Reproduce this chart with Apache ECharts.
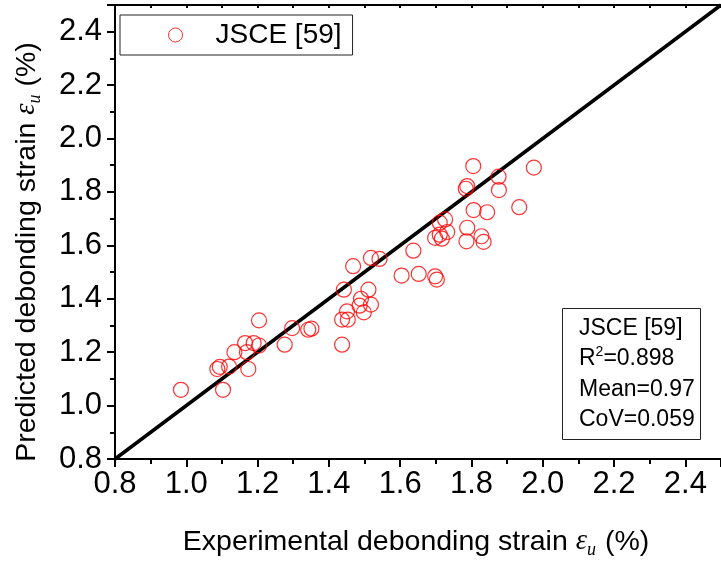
<!DOCTYPE html>
<html><head><meta charset="utf-8">
<script src="https://cdn.jsdelivr.net/npm/echarts@6/dist/echarts.min.js"></script>
<style>html,body{margin:0;padding:0;background:#fff}#c{width:721px;height:565px}</style>
</head><body><div id="c"></div>
<script>
// ---- data ----
const seriesName = 'JSCE [59]';
const experimental = [0.985, 1.103, 1.087, 1.094, 1.120, 1.174, 1.135, 1.170, 1.165, 1.189,
  1.204, 1.204, 1.276, 1.297, 1.342, 1.351, 1.437, 1.437, 1.453, 1.451,
  1.498, 1.486, 1.518, 1.490, 1.511, 1.442, 1.468, 1.518, 1.542, 1.604,
  1.637, 1.652, 1.698, 1.703, 1.698, 1.711, 1.717, 1.732, 1.726, 1.711,
  1.788, 1.786, 1.828, 1.834, 1.806, 1.844, 1.934, 1.788, 1.784, 1.805,
  1.876, 1.877, 1.975];
const predicted = [1.059, 1.059, 1.137, 1.145, 1.146, 1.137, 1.200, 1.200, 1.234, 1.234,
  1.225, 1.319, 1.228, 1.290, 1.284, 1.288, 1.228, 1.322, 1.322, 1.353,
  1.349, 1.374, 1.378, 1.400, 1.434, 1.434, 1.522, 1.553, 1.549, 1.487,
  1.580, 1.493, 1.484, 1.472, 1.628, 1.640, 1.625, 1.650, 1.697, 1.685,
  1.666, 1.615, 1.634, 1.613, 1.732, 1.724, 1.743, 1.822, 1.812, 1.897,
  1.857, 1.807, 1.891];
const equalityLine = [0.8, 2.5];
const statsTitle = 'JSCE [59]';
const statsR2 = '0.898';
const statsMean = '0.97';
const statsCoV = '0.059';
const axisMin = 0.8, axisMax = 2.5, axisStep = 0.2;

const FF = '"Liberation Sans", Arial, sans-serif';
const SERIF = '"Liberation Serif", "DejaVu Serif", serif';

function nameRich(subGap) {
  return {
    a: {fontSize: 28.5, fontFamily: FF, color: '#000', lineHeight: 34},
    e: {fontSize: 28.5, fontFamily: SERIF, fontStyle: 'italic', color: '#000', lineHeight: 34},
    s: {fontSize: 18, fontFamily: SERIF, fontStyle: 'italic', color: '#000', lineHeight: 18, verticalAlign: 'bottom',
        padding: [0, subGap, 0, 0]}
  };
}
const axisLineStyle = {color: '#000', width: 2};
const tickStyle = {color: '#000', width: 2};

const chart = echarts.init(document.getElementById('c'), null, {renderer: 'canvas'});
chart.setOption({
  animation: false,
  backgroundColor: '#fff',
  grid: {left: 115, top: 5, width: 614, height: 454, containLabel: false},
  title: {
    left: 562, top: 308,
    text: statsTitle + '\n{r|R}{sup|2}{r|=' + statsR2 + '}\nMean=' + statsMean + '\nCoV=' + statsCoV,
    borderColor: '#222', borderWidth: 1,
    padding: [5, 6, 5, 17],
    textStyle: {
      fontSize: 23, fontWeight: 'normal', fontFamily: FF, color: '#000', lineHeight: 30.5,
      rich: {
        r: {fontSize: 23, fontFamily: FF, color: '#000', lineHeight: 30.5},
        sup: {fontSize: 14, fontFamily: FF, color: '#000', lineHeight: 14, verticalAlign: 'top', padding: [2, 0, 0, 0]}
      }
    }
  },
  legend: {
    left: 120, top: 15,
    orient: 'horizontal',
    borderColor: '#222', borderWidth: 1,
    padding: [4, 11, 4, 48],
    itemWidth: 70, itemHeight: 14,
    textStyle: {fontSize: 28, fontFamily: FF, color: '#000', lineHeight: 32},
    data: [{name: seriesName, icon: 'circle', itemStyle: {color: 'transparent', borderColor: '#ff0000', borderWidth: 1}}]
  },
  xAxis: [{
    type: 'value', min: axisMin, max: axisMax, interval: axisStep, position: 'bottom',
    axisLine: {show: true, onZero: false, lineStyle: axisLineStyle},
    axisTick: {show: true, length: 8, lineStyle: tickStyle},
    minorTick: {show: true, splitNumber: 2, length: 5, lineStyle: tickStyle},
    splitLine: {show: false},
    axisLabel: {fontSize: 31, fontFamily: FF, color: '#000', margin: 10, showMaxLabel: false,
      formatter: v => v.toFixed(1)},
    name: '{a|Experimental debonding strain }{e|ε}{s|u}{a|(%)}',
    nameLocation: 'middle', nameGap: 66,
    nameTextStyle: {padding: [0, 4, 0, 0], rich: nameRich(9)}
  }, {
    type: 'value', min: axisMin, max: axisMax, interval: axisStep, position: 'top',
    axisLine: {show: true, onZero: false, lineStyle: axisLineStyle},
    axisTick: {show: true, inside: true, length: 3, lineStyle: tickStyle},
    minorTick: {show: true, splitNumber: 2, length: 3, lineStyle: tickStyle},
    splitLine: {show: false},
    axisLabel: {show: false}
  }],
  yAxis: [{
    type: 'value', min: axisMin, max: axisMax, interval: axisStep, position: 'left',
    axisLine: {show: true, onZero: false, lineStyle: axisLineStyle},
    axisTick: {show: true, length: 8, lineStyle: tickStyle},
    minorTick: {show: true, splitNumber: 2, length: 5, lineStyle: tickStyle},
    splitLine: {show: false},
    axisLabel: {fontSize: 31, fontFamily: FF, color: '#000', margin: 13, showMaxLabel: false,
      formatter: v => v.toFixed(1)},
    name: '{a|Predicted debonding strain }{e|ε}{s|u}{a| (%)}',
    nameLocation: 'middle', nameGap: 71,
    nameTextStyle: {padding: [0, 40, 0, 0], rich: nameRich(0)}
  }],
  series: [{
    type: 'line', name: 'equality', xAxisIndex: 0, yAxisIndex: 0,
    data: equalityLine.map(v => [v, v]),
    symbol: 'none', lineStyle: {color: '#000', width: 3.5}, silent: true, z: 1
  }, {
    type: 'scatter', name: seriesName, xAxisIndex: 0, yAxisIndex: 0,
    data: experimental.map((x, i) => [x, predicted[i]]),
    symbol: 'circle', symbolSize: 15,
    itemStyle: {color: 'transparent', borderColor: '#ff0000', borderWidth: 1.2},
    z: 3
  }]
});
</script></body></html>
